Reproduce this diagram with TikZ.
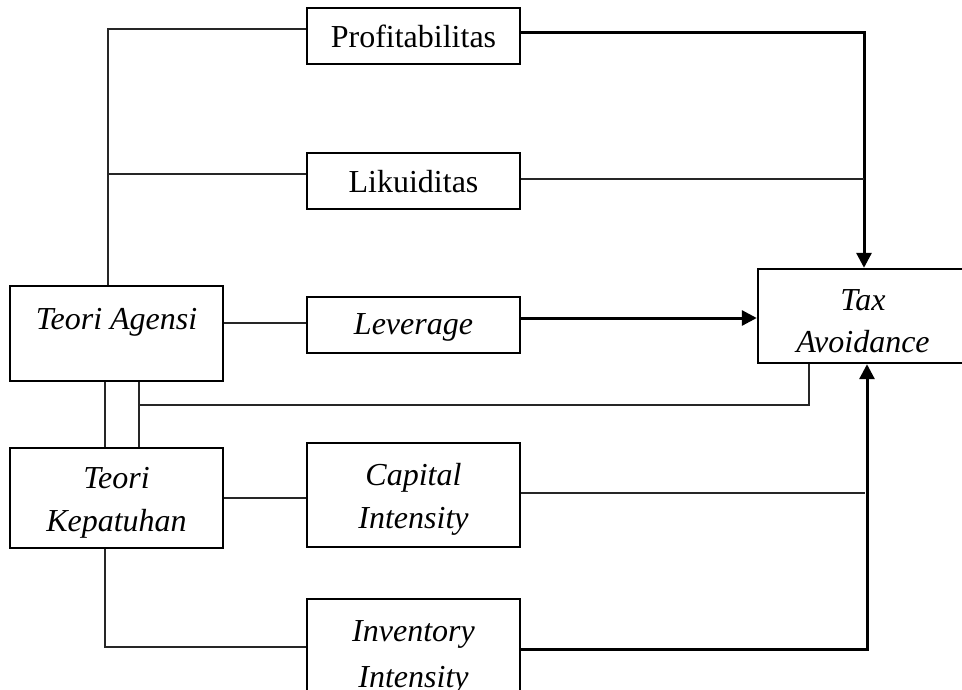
\documentclass[tikz,border=0pt]{standalone}
\usepackage{fontspec}
\setmainfont{Liberation Serif}
\usetikzlibrary{arrows.meta}
\begin{document}
\begin{tikzpicture}[x=1pt,y=-1pt,
  boxnode/.style={draw=black,line width=2.4pt,align=center,inner sep=0pt,
    font=\fontsize{32}{43}\selectfont},
  skip/.style={font=\fontsize{32}{#1}\selectfont},
  tb/.style={text height=22pt,text depth=#1},
  tbb/.style={text height=80pt,text depth=#1},
  thinline/.style={line width=1.3pt,draw=black!85},
  thickline/.style={line width=3pt,draw=black},
  arr/.style={-{Triangle[length=15pt,width=15pt]}}]
\useasboundingbox (0,0) rectangle (962,689);
\clip (0,0) rectangle (962,689);
\fill[white] (0,0) rectangle (962,689);
% boxes
\node[boxnode,tb=0pt,minimum width=213pt,minimum height=56pt] (prof) at (413.5,36) {Profitabilitas};
\node[boxnode,tb=0pt,minimum width=213pt,minimum height=56pt] (lik) at (413.5,181) {Likuiditas};
\node[boxnode,tb=4pt,minimum width=213pt,minimum height=56pt] (lev) at (413.5,325) {\textit{Leverage}};
\node[boxnode,tb=31pt,minimum width=213pt,minimum height=95pt] (agensi) at (116.5,333.5) {\textit{Teori Agensi}};
\node[boxnode,tbb=14pt,skip=43pt,minimum width=213pt,minimum height=100pt] (kep) at (116.5,498) {\textit{Teori}\\\textit{Kepatuhan}};
\node[boxnode,tbb=14pt,skip=43pt,minimum width=213pt,minimum height=104pt] (cap) at (413.5,495) {\textit{Capital}\\\textit{Intensity}};
\node[boxnode,tbb=8pt,skip=46pt,minimum width=213pt,minimum height=104pt] (inv) at (413.5,651) {\textit{Inventory}\\\textit{Intensity}};
\node[boxnode,tbb=8pt,skip=42pt,minimum width=210pt,minimum height=94pt] (tax) at (863,316) {\textit{Tax}\\\textit{Avoidance}};
% helper coordinates
\coordinate (c108) at (108,0);
\coordinate (c105) at (105,0);
\coordinate (c139) at (139,0);
\coordinate (h1) at (139,405);
% left tree
\draw[thinline] (agensi.north -| c108) |- ([yshift=7pt]prof.west);
\draw[thinline] ([yshift=7pt]lik.west -| c108) -- ([yshift=7pt]lik.west);
\draw[thinline] ([yshift=2pt]lev.west -| agensi.east) -- ([yshift=2pt]lev.west);
\draw[thinline] (agensi.south -| c105) -- (kep.north -| c105);
\draw[thinline] (agensi.south -| c139) -- (kep.north -| c139);
\draw[thinline] (h1) -| ([xshift=-54pt]tax.south);
\draw[thinline] (kep.east) -- (kep.east -| cap.west);
\draw[thinline] (kep.south -| c105) |- ([yshift=4pt]inv.west);
% right side
\draw[thickline,arr] ([yshift=4pt]prof.east) -| ([xshift=1pt]tax.north);
\draw[thinline] ([yshift=2pt]lik.east) -- ([yshift=2pt,xshift=1pt]lik.east -| tax.north);
\draw[thickline,arr] ([yshift=7pt]lev.east) -- ([yshift=7pt]lev.east -| tax.west);
\draw[thinline] ([yshift=2pt]cap.east) -- ([yshift=2pt,xshift=2pt]cap.east -| tax.south);
\draw[thickline,arr] ([yshift=2pt]inv.east) -| ([xshift=4pt]tax.south);
\end{tikzpicture}
\end{document}
